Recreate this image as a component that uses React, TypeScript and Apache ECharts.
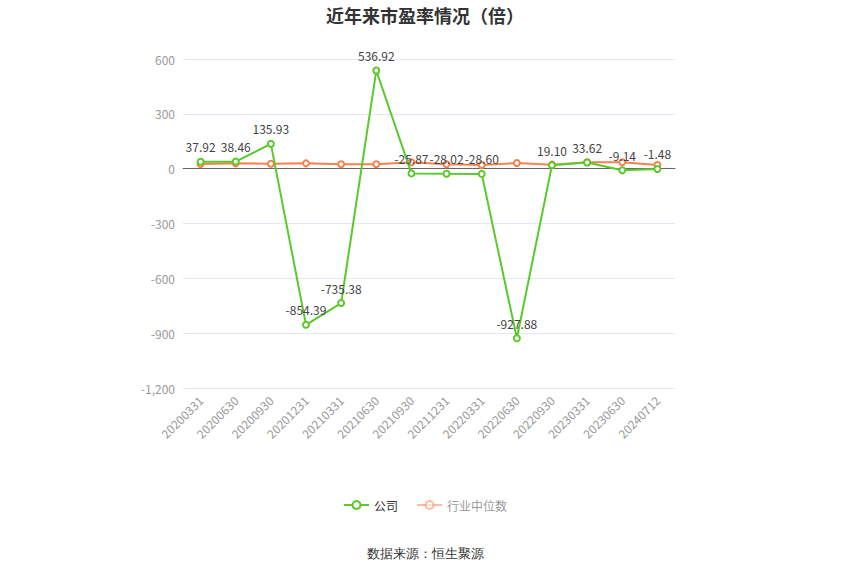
import { useEffect, useRef } from 'react';
import * as echarts from 'echarts';

const dates = [
  '20200331', '20200630', '20200930', '20201231', '20210331', '20210630', '20210930',
  '20211231', '20220331', '20220630', '20220930', '20230331', '20230630', '20240712',
];
const companyPE = [
  37.92, 38.46, 135.93, -854.39, -735.38, 536.92, -25.87,
  -28.02, -28.6, -927.88, 19.1, 33.62, -9.14, -1.48,
];
const industryPE = [25, 29, 27, 29, 24, 24, 35, 24, 20, 31, 22, 35, 35, 20];
const yTicks = { min: -1200, max: 600, interval: 300 };

export default function App() {
  const chartRef = useRef<HTMLDivElement>(null);

  useEffect(() => {
    if (!chartRef.current) {
      return;
    }
    const chart = echarts.init(chartRef.current, null, { renderer: 'svg' });

    const option = {
      animation: false,
      textStyle: { fontFamily: '"Microsoft YaHei", "Noto Sans CJK SC", sans-serif' },
      title: {
        text: '近年来市盈率情况（倍）',
        left: 'center',
        top: 1,
        textStyle: { fontSize: 18, fontWeight: 'bold', color: '#333' },
      },
      grid: { left: 183, right: 175, top: 59, bottom: 187 },
      legend: {
        bottom: 59,
        left: 'center',
        itemWidth: 25,
        itemHeight: 10,
        itemGap: 18,
        textStyle: { fontSize: 12, color: '#333' },
        data: [
          { name: '公司' },
          { name: '行业中位数', textStyle: { color: '#999' }, itemStyle: { opacity: 0.5 }, lineStyle: { opacity: 0.5 } },
        ],
      },
      graphic: [
        {
          type: 'text',
          left: 'center',
          top: 547,
          style: { text: '数据来源：恒生聚源', fontSize: 13, fill: '#333', font: '13px "Noto Sans CJK SC", sans-serif' },
        },
      ],
      xAxis: {
        type: 'category',
        data: dates,
        boundaryGap: true,
        axisLine: { lineStyle: { color: '#666' } },
        axisTick: { alignWithLabel: true, lineStyle: { color: '#999' } },
        axisLabel: { rotate: 45, interval: 0, color: '#999', fontSize: 12, margin: 10 },
      },
      yAxis: {
        type: 'value',
        min: yTicks.min,
        max: yTicks.max,
        interval: yTicks.interval,
        axisLine: { show: false },
        axisTick: { show: false },
        axisLabel: { color: '#999', fontSize: 12 },
        splitLine: { lineStyle: { color: '#e3e8f2' } },
      },
      series: [
        {
          name: '公司',
          type: 'line',
          data: companyPE,
          symbol: 'emptyCircle',
          symbolSize: 6,
          z: 3,
          itemStyle: { color: '#5ac92c' },
          lineStyle: { color: '#5ac92c', width: 2 },
          label: {
            show: true,
            position: 'top',
            color: '#444',
            fontSize: 12,
            formatter: (p: { value: number }) => p.value.toFixed(2),
          },
        },
        {
          name: '行业中位数',
          type: 'line',
          data: industryPE,
          symbol: 'emptyCircle',
          symbolSize: 6,
          z: 2,
          itemStyle: { color: '#f9804a' },
          lineStyle: { color: '#f9804a', width: 2 },
        },
      ],
    };

    chart.setOption(option);
    return () => {
      chart.dispose();
    };
  }, []);

  return (
    <div
      ref={chartRef}
      style={{ position: 'absolute', left: 0, top: 0, width: 850, height: 575 }}
    />
  );
}
